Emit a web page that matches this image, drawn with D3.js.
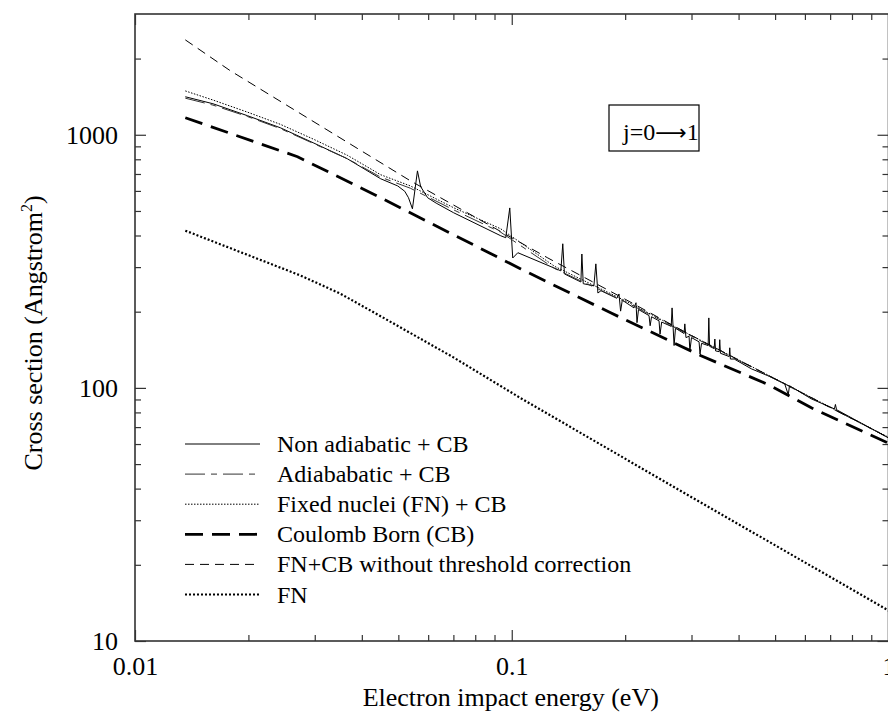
<!DOCTYPE html>
<html>
<head>
<meta charset="utf-8">
<script src="https://cdn.jsdelivr.net/npm/d3@7/dist/d3.min.js"></script>
<style>
  body { margin: 0; background: #fff; }
  text { font-family: "Liberation Serif", "Times New Roman", serif; fill: #000; }
</style>
</head>
<body>
<svg id="chart" width="888" height="713"></svg>
<script>
// energies in eV, cross sections in Angstrom^2
const nonAdiabatic = [
  [0.0136, 1413], [0.0161, 1326], [0.0199, 1189], [0.0243, 1066], [0.0297, 930],
  [0.0366, 804], [0.0449, 670], [0.0498, 628], [0.0520, 598], [0.0532, 564],
  [0.0545, 510], [0.0562, 720], [0.0573, 624], [0.0598, 564], [0.0630, 537],
  [0.0701, 492], [0.0935, 399], [0.0964, 392], [0.0988, 514], [0.1006, 326],
  [0.1038, 342], [0.1350, 290], [0.1366, 371], [0.1380, 282], [0.1526, 262],
  [0.1535, 338], [0.1548, 258], [0.1652, 253], [0.1672, 309], [0.1693, 237],
  [0.1725, 242], [0.1900, 226], [0.1926, 235], [0.1945, 201], [0.1965, 222],
  [0.2111, 207], [0.2137, 217], [0.2150, 181], [0.2170, 204], [0.2314, 193],
  [0.2330, 176], [0.2350, 191], [0.2460, 184], [0.2475, 163], [0.2500, 182],
  [0.2650, 175], [0.2664, 207], [0.2697, 147], [0.2720, 172], [0.2867, 164],
  [0.2880, 179], [0.2900, 158], [0.2956, 160], [0.2970, 140], [0.3000, 158],
  [0.3142, 152], [0.3160, 136], [0.3190, 150], [0.3321, 147], [0.3335, 189],
  [0.3350, 146], [0.3445, 143], [0.3460, 156], [0.3475, 140], [0.3552, 139],
  [0.3565, 155], [0.3580, 137], [0.3777, 133], [0.3790, 144], [0.3805, 130],
  [0.3895, 130], [0.4321, 119], [0.4797, 111.5], [0.5300, 104], [0.5420, 94],
  [0.5460, 102], [0.6239, 90.5], [0.7185, 82.6], [0.7230, 86], [0.7280, 82],
  [1.0, 63.4]
];
const adiabatic = [
  [0.0136, 1395], [0.0161, 1310], [0.0199, 1180], [0.0243, 1058], [0.0297, 925],
  [0.0366, 805], [0.0449, 680], [0.0538, 615], [0.0701, 505], [0.0935, 412],
  [0.1300, 296], [0.2000, 219], [0.3000, 160], [1.0, 63.6]
];
const fixedNuclei = [
  [0.0136, 1490], [0.0161, 1372], [0.0199, 1228], [0.0243, 1100], [0.0297, 962],
  [0.0366, 830], [0.0449, 695], [0.0538, 628], [0.0701, 515], [0.0935, 425],
  [0.1300, 302], [0.2000, 221], [0.3000, 161], [1.0, 63.8]
];
const coulombBorn = [
  [0.0136, 1167], [0.0270, 819], [0.0449, 564], [0.1057, 295], [0.183, 198],
  [0.318, 134], [0.480, 103], [0.624, 83.4], [1.0, 60.5]
];
const noThreshold = [
  [0.0136, 2371], [0.0179, 1791], [0.0538, 658], [0.1247, 326], [0.2000, 224],
  [0.3000, 161], [1.0, 63.6]
];
const fixedNucleiOnly = [
  [0.0136, 418], [0.0275, 278], [0.035, 236], [0.0457, 189], [0.070, 132],
  [0.1057, 91], [0.300, 37], [1.0, 13.2]
];

const xMajor = [0.01, 0.1, 1];
const xMinor = [0.02, 0.03, 0.04, 0.05, 0.06, 0.07, 0.08, 0.09,
                0.2, 0.3, 0.4, 0.5, 0.6, 0.7, 0.8, 0.9];
const yMajor = [10, 100, 1000];
const yMinor = [20, 30, 40, 50, 60, 70, 80, 90,
                200, 300, 400, 500, 600, 700, 800, 900, 2000];

const legendLabels = [
  'Non adiabatic + CB',
  'Adiababatic + CB',
  'Fixed nuclei (FN) + CB',
  'Coulomb Born (CB)',
  'FN+CB without threshold correction',
  'FN'
];
const seriesList = [nonAdiabatic, adiabatic, fixedNuclei, coulombBorn, noThreshold, fixedNucleiOnly];

// line styles, same order as the legend
const styles = [
  { width: 1,   dash: null,        color: '#000' },
  { width: 1,   dash: '20,6,6,6',  color: '#333' },
  { width: 1,   dash: '1.5,1.5',   color: '#000' },
  { width: 2.8, dash: '18,9',      color: '#000' },
  { width: 1,   dash: '9,6',       color: '#000' },
  { width: 2.2, dash: '2,2',       color: '#000' }
];

const svg = d3.select('#chart');
const plotLeft = 135, plotRight = 888.5, plotTop = 14, plotBottom = 641;

const x = d3.scaleLog().domain([0.01, 1]).range([plotLeft, plotRight]);
const y = d3.scaleLog().domain([10, 3000]).range([plotBottom, plotTop]);

svg.append('clipPath').attr('id', 'plot-clip')
  .append('rect')
  .attr('x', plotLeft).attr('y', plotTop)
  .attr('width', plotRight - plotLeft).attr('height', plotBottom - plotTop);

// frame
svg.append('rect')
  .attr('x', plotLeft).attr('y', plotTop)
  .attr('width', plotRight - plotLeft).attr('height', plotBottom - plotTop)
  .attr('fill', 'none')
  .attr('stroke', '#333')
  .attr('stroke-width', 1.6);

function tickStyle(g) {
  g.select('.domain').remove();
  g.selectAll('.tick line').attr('stroke', '#333').attr('stroke-width', 1.2);
  g.selectAll('.tick text').style('font-size', '26px').attr('fill', '#000');
}

// bottom
svg.append('g').attr('transform', `translate(0,${plotBottom})`)
  .call(d3.axisBottom(x).tickValues(xMajor).tickSizeInner(-11).tickSizeOuter(0)
    .tickPadding(16).tickFormat(d => d3.format('~g')(d)))
  .call(tickStyle);
svg.append('g').attr('transform', `translate(0,${plotBottom})`)
  .call(d3.axisBottom(x).tickValues(xMinor).tickSizeInner(-6).tickSizeOuter(0).tickFormat(''))
  .call(tickStyle);

// top
svg.append('g').attr('transform', `translate(0,${plotTop})`)
  .call(d3.axisTop(x).tickValues(xMajor).tickSizeInner(-11).tickSizeOuter(0).tickFormat(''))
  .call(tickStyle);
svg.append('g').attr('transform', `translate(0,${plotTop})`)
  .call(d3.axisTop(x).tickValues(xMinor).tickSizeInner(-6).tickSizeOuter(0).tickFormat(''))
  .call(tickStyle);

// left
svg.append('g').attr('transform', `translate(${plotLeft},0)`)
  .call(d3.axisLeft(y).tickValues(yMajor).tickSizeInner(-11).tickSizeOuter(0)
    .tickPadding(17).tickFormat(d3.format('d')))
  .call(tickStyle);
svg.append('g').attr('transform', `translate(${plotLeft},0)`)
  .call(d3.axisLeft(y).tickValues(yMinor).tickSizeInner(-6).tickSizeOuter(0).tickFormat(''))
  .call(tickStyle);

// right
svg.append('g').attr('transform', `translate(${plotRight},0)`)
  .call(d3.axisRight(y).tickValues(yMajor).tickSizeInner(-11).tickSizeOuter(0).tickFormat(''))
  .call(tickStyle);
svg.append('g').attr('transform', `translate(${plotRight},0)`)
  .call(d3.axisRight(y).tickValues(yMinor).tickSizeInner(-6).tickSizeOuter(0).tickFormat(''))
  .call(tickStyle);

// curves
const line = d3.line().x(d => x(d[0])).y(d => y(d[1]));
const plot = svg.append('g').attr('clip-path', 'url(#plot-clip)');
seriesList.forEach((series, i) => {
  const s = styles[i];
  plot.append('path')
    .datum(series)
    .attr('d', line)
    .attr('fill', 'none')
    .attr('stroke', s.color)
    .attr('stroke-width', s.width)
    .attr('stroke-dasharray', s.dash)
    .attr('stroke-linejoin', 'miter');
});

// legend
const legend = svg.append('g').attr('transform', 'translate(185,444)');
legendLabels.forEach((label, i) => {
  const s = styles[i];
  const row = legend.append('g').attr('transform', `translate(0,${i * 30.1})`);
  row.append('line')
    .attr('x1', 0).attr('x2', 75).attr('y1', 0).attr('y2', 0)
    .attr('stroke', s.color)
    .attr('stroke-width', s.width)
    .attr('stroke-dasharray', s.dash);
  row.append('text')
    .attr('x', 92).attr('y', 8)
    .style('font-size', '24px')
    .text(label);
});

// transition box
svg.append('rect')
  .attr('x', 609).attr('y', 105).attr('width', 90).attr('height', 46)
  .attr('fill', 'none').attr('stroke', '#000').attr('stroke-width', 1.2);
const boxText = svg.append('text')
  .attr('x', 623).attr('y', 140)
  .style('font-size', '24px');
boxText.append('tspan').text('j=0');
boxText.append('tspan')
  .style('font-family', '"DejaVu Sans", sans-serif')
  .style('font-size', '22px')
  .text('\u27F6');
boxText.append('tspan').text('1');

// axis titles
svg.append('text')
  .attr('x', (plotLeft + plotRight) / 2 - 1).attr('y', 706)
  .attr('text-anchor', 'middle')
  .style('font-size', '26px')
  .text('Electron impact energy (eV)');

const yTitle = svg.append('text')
  .attr('transform', 'translate(42,333) rotate(-90)')
  .attr('text-anchor', 'middle')
  .style('font-size', '26px');
yTitle.append('tspan').text('Cross section (Angstrom');
yTitle.append('tspan').attr('dy', -10).style('font-size', '16px').text('2');
yTitle.append('tspan').attr('dy', 10).text(')');
</script>
</body>
</html>
